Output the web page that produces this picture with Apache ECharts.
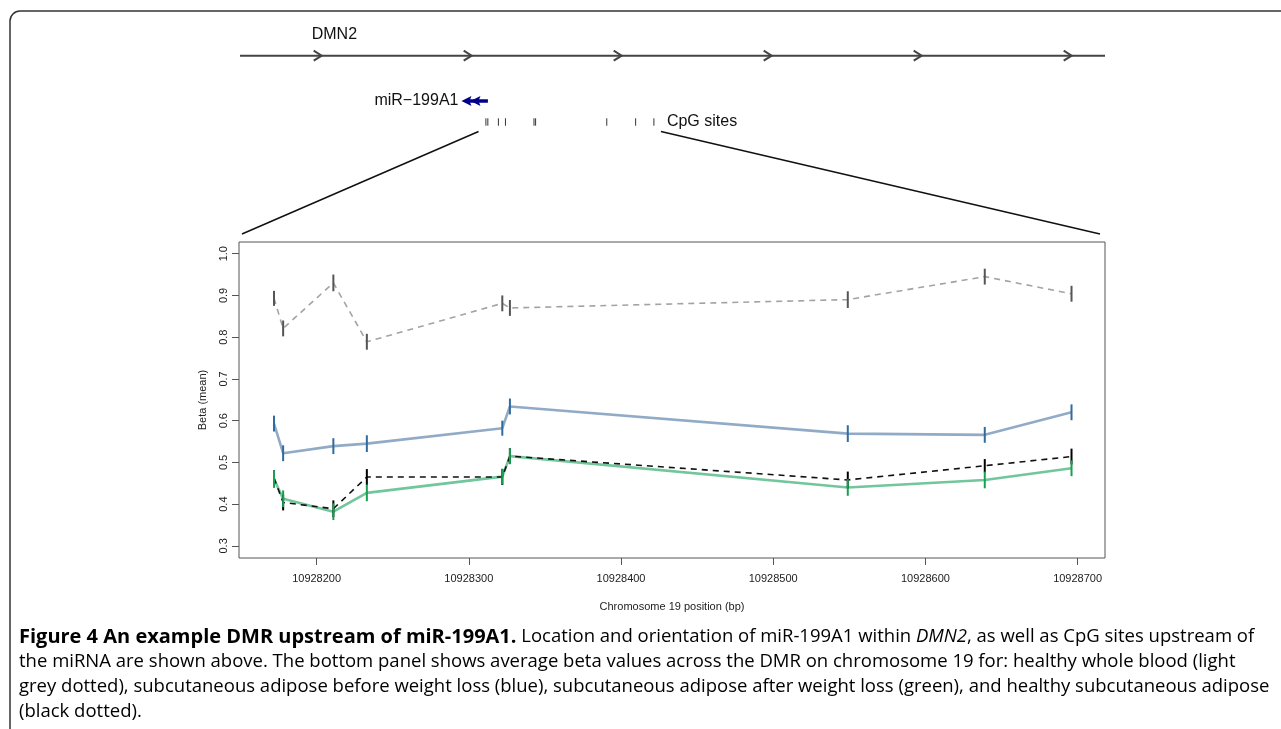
<!DOCTYPE html>
<html>
<head>
<meta charset="utf-8">
<script src="https://cdn.jsdelivr.net/npm/echarts@6/dist/echarts.min.js"></script>
<style>
html,body{margin:0;padding:0;background:#fff;}
#chart{width:1281px;height:729px;}
</style>
</head>
<body>
<div id="chart"></div>
<script>
// ---------------- data ----------------
const CPG_POS = [10928172, 10928178, 10928211, 10928233, 10928322, 10928327, 10928549, 10928639, 10928696];
const X_TICKS = [10928200, 10928300, 10928400, 10928500, 10928600, 10928700];
const Y_TICKS = [0.3, 0.4, 0.5, 0.6, 0.7, 0.8, 0.9, 1.0];

const BLOOD_MEAN   = [0.893, 0.821, 0.930, 0.789, 0.881, 0.870, 0.890, 0.945, 0.904];
const BLOOD_ERR    = [0.018, 0.019, 0.020, 0.019, 0.019, 0.019, 0.020, 0.019, 0.019];
const BEFORE_MEAN  = [0.593, 0.522, 0.539, 0.545, 0.582, 0.634, 0.569, 0.566, 0.620];
const BEFORE_ERR   = [0.019, 0.019, 0.019, 0.020, 0.018, 0.019, 0.020, 0.019, 0.019];
const AFTER_MEAN   = [0.460, 0.413, 0.382, 0.427, 0.466, 0.515, 0.440, 0.458, 0.486];
const AFTER_ERR    = [0.021, 0.020, 0.020, 0.020, 0.019, 0.019, 0.020, 0.020, 0.019];
const HEALTHY_MEAN = [0.463, 0.404, 0.389, 0.465, 0.465, 0.515, 0.458, 0.492, 0.514];
const HEALTHY_ERR  = [0.018, 0.019, 0.020, 0.019, 0.019, 0.019, 0.020, 0.016, 0.019];

const MIR_START = 10928102, MIR_END = 10928172;

const X_MIN = 10928149, X_MAX = 10928718;
const Y_MIN = 0.271, Y_MAX = 1.028;

const CAPTION = [
  [['b','Figure 4 An example DMR upstream of miR-199A1.'],['r',' Location and orientation of miR-199A1 within '],['i','DMN2'],['r',', as well as CpG sites upstream of']],
  [['r','the miRNA are shown above. The bottom panel shows average beta values across the DMR on chromosome 19 for: healthy whole blood (light']],
  [['r','grey dotted), subcutaneous adipose before weight loss (blue), subcutaneous adipose after weight loss (green), and healthy subcutaneous adipose']],
  [['r','(black dotted).']]
];

// ---------------- layout ----------------
const PLOT = {left: 239, top: 242, width: 866, height: 316};
const TRACK = {left: 240, width: 865, xmin: 10927405, xmax: 10930103};
const ROW = {gene: 55.7, mir: 101, cpg: 122};
const FONT_PLOT = 'Liberation Sans, Arial, Helvetica, sans-serif';
const FONT_CAP = 'Open Sans, sans-serif';

const chart = echarts.init(document.getElementById('chart'), null, {renderer: 'canvas'});

function pts(means) { return CPG_POS.map((x, i) => [x, means[i]]); }
function errs(means, e) { return CPG_POS.map((x, i) => [x, means[i] - e[i], means[i] + e[i]]); }

function lineSeries(name, means, color, width, dashed, z) {
  return {
    name, type: 'line', xAxisIndex: 0, yAxisIndex: 0,
    data: pts(means), symbol: 'none', showSymbol: false, silent: true,
    lineStyle: {color, width, type: dashed ? [6, 5] : 'solid'},
    z, animation: false
  };
}
function errSeries(means, e, color, z) {
  return {
    type: 'custom', xAxisIndex: 0, yAxisIndex: 0, silent: true, z, animation: false,
    data: errs(means, e),
    renderItem: function (params, api) {
      const a = api.coord([api.value(0), api.value(1)]);
      const b = api.coord([api.value(0), api.value(2)]);
      return {type: 'line', shape: {x1: a[0], y1: a[1], x2: b[0], y2: b[1]},
              style: {stroke: color, lineWidth: 2}};
    }
  };
}

const option = {
  animation: false,
  backgroundColor: '#fff',
  grid: [
    {left: PLOT.left, top: PLOT.top, width: PLOT.width, height: PLOT.height, show: true,
     borderColor: '#555', borderWidth: 1, backgroundColor: 'transparent'},
    {left: TRACK.left, top: 0, width: TRACK.width, height: 729, show: false}
  ],
  xAxis: [
    {type: 'value', gridIndex: 0, min: X_MIN, max: X_MAX,
     axisLine: {show: false}, splitLine: {show: false},
     axisTick: {show: true, customValues: X_TICKS, length: 7, lineStyle: {color: '#555', width: 1}},
     axisLabel: {customValues: X_TICKS, formatter: v => String(v), margin: 15,
                 fontFamily: FONT_PLOT, fontSize: 11, color: '#222'},
     name: 'Chromosome 19 position (bp)', nameLocation: 'middle', nameGap: 43,
     nameTextStyle: {fontFamily: FONT_PLOT, fontSize: 11, color: '#222'}},
    {type: 'value', gridIndex: 1, min: TRACK.xmin, max: TRACK.xmax, show: false}
  ],
  yAxis: [
    {type: 'value', gridIndex: 0, min: Y_MIN, max: Y_MAX,
     axisLine: {show: false}, splitLine: {show: false},
     axisTick: {show: true, customValues: Y_TICKS, length: 7, lineStyle: {color: '#555', width: 1}},
     axisLabel: {customValues: Y_TICKS, formatter: v => v.toFixed(1), rotate: 90, margin: 10,
                 fontFamily: FONT_PLOT, fontSize: 11, color: '#222'},
     name: 'Beta (mean)', nameLocation: 'middle', nameGap: 31, nameRotate: 90,
     nameTextStyle: {fontFamily: FONT_PLOT, fontSize: 11, color: '#222'}},
    {type: 'value', gridIndex: 1, min: 0, max: 729, inverse: true, show: false}
  ],
  series: [
    lineSeries('Healthy whole blood', BLOOD_MEAN, '#a3a3a3', 1.6, true, 2),
    lineSeries('Adipose before weight loss', BEFORE_MEAN, '#91abc7', 2.6, false, 2),
    lineSeries('Healthy adipose', HEALTHY_MEAN, '#111111', 1.6, true, 3),
    lineSeries('Adipose after weight loss', AFTER_MEAN, '#72c69b', 2.6, false, 2),
    errSeries(BLOOD_MEAN, BLOOD_ERR, '#555555', 5),
    errSeries(BEFORE_MEAN, BEFORE_ERR, '#2f6aa1', 5),
    errSeries(HEALTHY_MEAN, HEALTHY_ERR, '#000000', 5),
    errSeries(AFTER_MEAN, AFTER_ERR, '#17a04e', 6),
    // gene track: DMN2 line with strand chevrons
    {type: 'custom', xAxisIndex: 1, yAxisIndex: 1, silent: true, animation: false, data: [[0]],
     renderItem: function (params, api) {
       const cs = params.coordSys;
       const y = api.coord([TRACK.xmin, ROW.gene])[1];
       const children = [{type: 'line', shape: {x1: cs.x, y1: y, x2: cs.x + cs.width, y2: y},
                          style: {stroke: '#444', lineWidth: 2}}];
       for (let tip = cs.x + 81.7; tip < cs.x + cs.width; tip += 150) {
         children.push({type: 'polyline', shape: {points: [[tip - 8, y - 5], [tip, y], [tip - 8, y + 5]]},
                        style: {stroke: '#444', lineWidth: 2, fill: null}});
       }
       return {type: 'group', children};
     }},
    // miRNA arrow (minus strand)
    {type: 'custom', xAxisIndex: 1, yAxisIndex: 1, silent: true, animation: false,
     data: [[MIR_START, MIR_END]],
     renderItem: function (params, api) {
       const a = api.coord([api.value(0), ROW.mir]);
       const b = api.coord([api.value(1), ROW.mir]);
       const y = a[1];
       const t1 = a[0] - 2, t2 = t1 + 9;
       return {type: 'group', children: [
         {type: 'line', shape: {x1: t1 + 4, y1: y, x2: b[0] + 2, y2: y}, style: {stroke: '#00008b', lineWidth: 3.5}},
         {type: 'polygon', shape: {points: [[t1, y], [t1 + 10, y - 5], [t1 + 8, y], [t1 + 10, y + 5]]}, style: {fill: '#00008b'}},
         {type: 'polygon', shape: {points: [[t2, y], [t2 + 10, y - 5], [t2 + 8, y], [t2 + 10, y + 5]]}, style: {fill: '#00008b'}}
       ]};
     }},
    // CpG sites
    {type: 'custom', xAxisIndex: 1, yAxisIndex: 1, silent: true, animation: false,
     data: CPG_POS.map(x => [x]),
     renderItem: function (params, api) {
       const p = api.coord([api.value(0), ROW.cpg]);
       return {type: 'line', shape: {x1: p[0], y1: p[1] - 3.7, x2: p[0], y2: p[1] + 3.7},
               style: {stroke: '#333', lineWidth: 1}};
     }}
  ]
};
chart.setOption(option);

// ---------- overlay: zoom lines, labels, caption, frame ----------
const upL = chart.convertToPixel({xAxisIndex: 1, yAxisIndex: 1}, [X_MIN, 131.5]);
const upR = chart.convertToPixel({xAxisIndex: 1, yAxisIndex: 1}, [X_MAX, 131.5]);
const lastCpg = chart.convertToPixel({xAxisIndex: 1, yAxisIndex: 1}, [CPG_POS[CPG_POS.length - 1], ROW.cpg]);
const mirTip = chart.convertToPixel({xAxisIndex: 1, yAxisIndex: 1}, [MIR_START, ROW.mir]);

const rich = {
  b: {fontFamily: FONT_CAP, fontSize: 20, fontWeight: 'bold', color: '#2a2a2a'},
  r: {fontFamily: FONT_CAP, fontSize: 18.5, color: '#404040'},
  i: {fontFamily: FONT_CAP, fontSize: 18.5, fontStyle: 'italic', color: '#404040'}
};
const captionGraphics = CAPTION.map((line, k) => ({
  type: 'text', x: 19, y: 637 + k * 25, silent: true,
  style: {text: line.map(s => '{' + s[0] + '|' + s[1] + '}').join(''), rich,
          font: '18.5px ' + FONT_CAP, verticalAlign: 'middle', align: 'left'}
}));

const frame = [
  {type: 'line', silent: true, shape: {x1: 10, y1: 729, x2: 10, y2: 21}, style: {stroke: '#333', lineWidth: 1.5}},
  {type: 'arc', silent: true, shape: {cx: 20, cy: 21, r: 10, startAngle: Math.PI, endAngle: Math.PI * 1.5},
   style: {stroke: '#333', lineWidth: 1.5, fill: null}},
  {type: 'line', silent: true, shape: {x1: 20, y1: 11, x2: 1281, y2: 11}, style: {stroke: '#333', lineWidth: 1.5}}
];

chart.setOption({graphic: frame.concat([
  {type: 'line', silent: true,
   shape: {x1: upL[0], y1: upL[1], x2: PLOT.left + 3, y2: PLOT.top - 8},
   style: {stroke: '#111', lineWidth: 1.5}},
  {type: 'line', silent: true,
   shape: {x1: upR[0], y1: upR[1], x2: PLOT.left + PLOT.width - 5, y2: PLOT.top - 8},
   style: {stroke: '#111', lineWidth: 1.5}},
  {type: 'text', silent: true, x: 311.7, y: ROW.gene - 21.5,
   style: {text: 'DMN2', font: '16px ' + FONT_PLOT, fill: '#111', verticalAlign: 'middle', align: 'left'}},
  {type: 'text', silent: true, x: mirTip[0] - 5, y: ROW.mir,
   style: {text: 'miR\u2212199A1', font: '16px ' + FONT_PLOT, fill: '#111', verticalAlign: 'middle', align: 'right'}},
  {type: 'text', silent: true, x: lastCpg[0] + 13, y: ROW.cpg,
   style: {text: 'CpG sites', font: '16px ' + FONT_PLOT, fill: '#111', verticalAlign: 'middle', align: 'left'}}
]).concat(captionGraphics)});
</script>
</body>
</html>
